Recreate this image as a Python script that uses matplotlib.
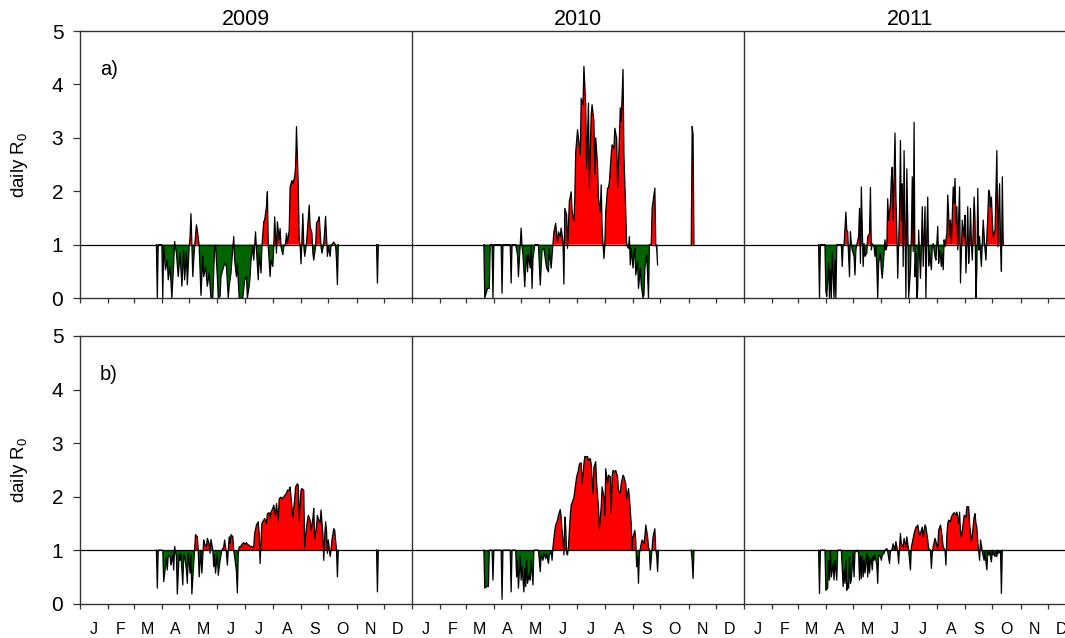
import numpy as np
import matplotlib
matplotlib.use('Agg')
import matplotlib.pyplot as plt

plt.rcParams['font.family'] = ['Liberation Sans', 'DejaVu Sans']
plt.rcParams['mathtext.default'] = 'regular'

years = ['2009', '2010', '2011']
months = ['J', 'F', 'M', 'A', 'M', 'J', 'J', 'A', 'S', 'O', 'N', 'D']
month_start = [0, 31, 59, 90, 120, 151, 181, 212, 243, 273, 304, 334, 365]
nan = np.nan

# daily R0, (day of year, value); nan = no data
# panel a)
a09 = [(84, 1.0), (85, 0.0), (86, 1.0), (90, 1.0), (91, 0.0), (92, 0.96), (94, 0.53), (96, 0.71),
       (97, 0.34), (99, 0.59), (101, 0.0), (103, 0.65), (104, 1.06), (106, 0.84), (108, 0.40),
       (110, 0.84), (112, 0.22), (114, 0.90), (115, 0.34), (117, 0.84), (118, 0.25), (120, 0.96),
       (121, 1.14), (122, 1.58), (124, 0.40), (125, 0.71), (126, 0.96), (128, 1.37), (129, 1.27),
       (131, 0.98), (132, 0.53), (133, 0.05), (135, 0.78), (136, 0.40), (138, 0.59), (140, 0.22),
       (142, 0.47), (144, 0.0), (146, 0.0), (148, 0.96), (149, 0.99), (151, 0.40), (152, 0.0),
       (154, 0.03), (155, 0.40), (157, 0.53), (159, 0.65), (161, 0.59), (163, 0.0), (164, 0.22),
       (166, 0.47), (167, 0.71), (169, 1.15), (170, 0.71), (172, 0.40), (173, 0.65), (175, 0.0),
       (177, 0.0), (179, 0.0), (181, 0.34), (183, 0.40), (184, 0.0), (186, 0.22), (187, 0.40),
       (188, 0.71), (190, 0.96), (191, 0.71), (193, 1.24), (194, 0.90), (196, 0.34), (197, 0.84),
       (199, 0.47), (200, 0.96), (202, 1.43), (203, 1.46), (205, 1.71), (206, 1.99), (207, 0.96),
       (209, 0.40), (210, 0.71), (212, 0.59), (213, 0.96), (214, 1.52), (216, 0.84), (217, 1.43),
       (219, 1.09), (220, 1.30), (221, 0.96), (223, 0.81), (224, 0.96), (226, 1.02), (227, 1.21),
       (228, 1.02), (230, 1.27), (231, 2.08), (233, 2.20), (234, 2.14), (236, 2.27), (237, 2.45),
       (238, 3.21), (240, 2.08), (241, 1.09), (242, 0.99), (243, 0.64), (245, 1.58), (246, 0.99),
       (247, 0.78), (249, 1.02), (250, 1.27), (252, 1.74), (253, 1.34), (255, 1.21), (256, 0.84),
       (257, 0.71), (259, 0.96), (260, 1.40), (262, 1.46), (263, 1.52), (265, 0.96), (266, 0.84),
       (268, 1.02), (269, 1.27), (270, 1.53), (272, 0.78), (273, 0.96), (275, 0.78), (276, 0.99),
       (278, 1.02), (279, 1.05), (281, 0.99), (282, 0.71), (283, 0.25), (284, 1.0), (300, nan),
       (326, 1.0), (327, 0.28), (328, 1.0)]

a10 = [(79, 1.0), (80, 0.0), (83, 0.18), (85, 0.18), (86, 1.0), (88, 1.0), (89, 0.0), (90, 1.0),
       (98, 1.0), (99, 0.09), (100, 1.0), (108, 1.0), (109, 0.28), (110, 1.0), (114, 1.0),
       (116, 0.81), (117, 0.40), (119, 0.99), (120, 1.31), (121, 0.96), (122, 0.81), (124, 0.21),
       (125, 0.62), (126, 0.81), (127, 0.49), (128, 0.81), (130, 0.56), (131, 0.99), (132, 0.18),
       (133, 0.74), (135, 1.0), (139, 1.0), (141, 0.24), (143, 0.90), (145, 0.93), (147, 0.68),
       (148, 0.56), (150, 0.49), (151, 0.93), (153, 0.56), (155, 1.0), (156, 1.24), (158, 1.40),
       (159, 1.18), (160, 1.05), (161, 1.24), (163, 1.15), (164, 1.31), (166, 1.05), (167, 0.26),
       (168, 1.68), (170, 1.56), (171, 0.93), (173, 1.81), (175, 1.99), (176, 1.62), (178, 1.43),
       (179, 1.87), (180, 2.74), (182, 3.15), (183, 2.99), (185, 2.68), (186, 3.74), (188, 3.62),
       (189, 4.34), (191, 3.62), (192, 2.43), (194, 3.65), (195, 2.06), (197, 3.43), (198, 3.62),
       (200, 3.31), (201, 2.32), (202, 3.00), (204, 2.49), (205, 1.87), (207, 1.62), (208, 2.12),
       (209, 1.31), (211, 0.74), (212, 1.0), (213, 1.62), (215, 2.06), (216, 2.06), (217, 2.18),
       (219, 2.68), (220, 2.87), (222, 2.81), (223, 3.18), (225, 2.99), (226, 2.06), (228, 2.99),
       (229, 3.56), (230, 3.31), (232, 4.28), (233, 2.68), (235, 1.62), (236, 1.0), (238, 0.93),
       (239, 1.15), (240, 0.62), (241, 0.93), (243, 0.56), (244, 0.81), (245, 0.93), (246, 0.43),
       (248, 0.68), (249, 0.18), (251, 0.56), (252, 0.24), (254, 0.0), (255, 0.06), (256, 0.56),
       (258, 0.81), (259, 0.43), (260, 0.0), (261, 1.0), (263, 1.0), (264, 1.68), (265, 1.81),
       (267, 2.06), (268, 1.0), (269, 0.93), (270, 0.62), (290, nan),
       (307, 1.0), (308, 3.21), (309, 3.06), (310, 1.0)]

a11 = [(82, 1.0), (83, 0.0), (84, 1.0), (89, 1.0), (90, 0.12), (91, 0.03), (93, 0.65), (94, 0.0),
       (95, 0.53), (96, 0.0), (97, 0.84), (99, 0.0), (100, 0.71), (101, 0.0), (102, 1.0), (107, 1.0),
       (108, 0.59), (109, 1.0), (110, 1.0), (112, 1.61), (113, 1.27), (114, 1.24), (115, 0.78),
       (116, 0.40), (117, 1.24), (118, 1.02), (119, 0.90), (121, 0.78), (122, 0.43), (123, 0.90),
       (124, 1.0), (126, 1.15), (127, 1.68), (128, 0.65), (129, 2.08), (130, 1.34), (131, 0.59),
       (132, 1.02), (133, 0.78), (135, 0.84), (136, 1.15), (138, 1.21), (139, 2.07), (140, 0.90),
       (141, 1.02), (143, 0.96), (144, 0.78), (145, 0.96), (146, 0.59), (147, 0.0), (148, 0.65),
       (150, 0.84), (151, 0.53), (152, 0.37), (154, 0.84), (155, 1.09), (156, 0.90), (157, 0.96),
       (158, 1.86), (159, 1.45), (161, 1.77), (162, 2.27), (163, 2.45), (164, 1.45), (166, 3.09),
       (167, 1.89), (168, 1.27), (169, 0.37), (171, 1.65), (172, 2.95), (173, 1.45), (174, 2.14),
       (175, 0.59), (176, 2.76), (177, 1.45), (178, 0.0), (179, 2.42), (180, 1.45), (181, 0.0),
       (183, 0.53), (184, 1.15), (185, 2.27), (186, 0.87), (187, 3.29), (188, 0.40), (189, 0.84),
       (190, 0.0), (191, 0.16), (192, 1.27), (194, 0.37), (195, 0.90), (196, 1.71), (197, 0.59),
       (198, 1.15), (199, 1.71), (200, 0.0), (201, 1.21), (202, 1.89), (203, 0.60), (204, 0.84),
       (206, 0.53), (207, 0.96), (208, 1.02), (209, 0.90), (210, 0.78), (211, 0.71), (213, 1.34),
       (214, 0.65), (215, 0.90), (216, 0.78), (217, 0.59), (218, 0.84), (219, 0.53), (220, 1.09),
       (221, 0.96), (223, 1.21), (224, 1.93), (225, 1.58), (226, 1.15), (227, 1.46), (228, 1.02),
       (230, 2.08), (231, 1.77), (232, 2.24), (233, 1.40), (234, 1.71), (235, 0.90), (236, 1.46),
       (237, 2.08), (238, 0.28), (239, 0.84), (240, 1.46), (242, 1.15), (243, 1.55), (244, 0.47),
       (245, 1.02), (246, 1.71), (247, 0.65), (248, 1.02), (249, 1.68), (250, 1.02), (251, 0.71),
       (253, 1.89), (254, 1.46), (255, 0.0), (256, 0.53), (257, 2.05), (258, 0.90), (259, 1.15),
       (260, 0.84), (261, 0.59), (262, 1.02), (263, 1.46), (265, 0.90), (266, 0.71), (267, 1.15),
       (268, 1.52), (269, 2.02), (270, 1.96), (271, 1.71), (272, 1.89), (273, 1.46), (274, 1.15),
       (276, 1.27), (277, 2.02), (278, 2.76), (279, 0.96), (280, 1.65), (281, 2.14), (282, 1.02),
       (283, 0.50), (284, 2.27), (285, 1.0)]

# panel b)
b09 = [(84, 1.0), (85, 0.29), (86, 1.0), (91, 1.0), (92, 0.41), (95, 0.84), (96, 0.63), (97, 0.91),
       (99, 0.88), (100, 0.72), (102, 0.91), (103, 0.63), (104, 1.07), (106, 0.88), (107, 0.18),
       (109, 0.91), (110, 0.81), (111, 0.94), (113, 0.35), (114, 0.91), (115, 0.88), (117, 0.63),
       (118, 0.38), (119, 0.94), (121, 0.57), (122, 0.91), (123, 0.18), (125, 0.75), (126, 1.0),
       (127, 1.29), (129, 1.25), (130, 1.0), (131, 0.50), (133, 1.0), (134, 0.57), (136, 1.19),
       (137, 1.12), (139, 1.06), (140, 1.22), (142, 1.12), (143, 0.94), (144, 1.20), (146, 1.0),
       (147, 0.69), (148, 0.91), (149, 0.57), (151, 0.94), (152, 0.53), (154, 0.81), (155, 0.91),
       (156, 1.0), (158, 1.06), (159, 1.19), (161, 0.94), (162, 0.72), (164, 1.25), (165, 1.12),
       (166, 1.29), (168, 1.25), (169, 1.0), (171, 0.75), (172, 0.60), (173, 0.20), (174, 0.94),
       (175, 1.06), (177, 1.07), (178, 1.11), (180, 1.14), (181, 1.11), (183, 1.14), (184, 1.11),
       (186, 1.09), (187, 1.07), (188, 1.07), (190, 1.06), (191, 1.06), (192, 1.31), (194, 1.47),
       (195, 1.50), (196, 1.53), (197, 1.31), (198, 0.75), (199, 1.19), (200, 1.50), (202, 1.56),
       (203, 1.59), (205, 1.50), (206, 1.68), (208, 1.70), (209, 1.59), (210, 1.71), (212, 1.78),
       (213, 1.84), (215, 1.65), (216, 1.87), (218, 1.56), (219, 1.96), (221, 1.99), (222, 1.96),
       (224, 1.99), (225, 2.02), (227, 2.06), (228, 2.12), (230, 2.12), (231, 2.18), (234, 1.62),
       (236, 1.95), (237, 2.18), (239, 2.24), (240, 2.21), (241, 1.56), (243, 2.12), (244, 2.15),
       (246, 2.12), (247, 1.06), (249, 1.43), (251, 1.65), (253, 1.56), (254, 1.37), (256, 1.59),
       (257, 1.78), (258, 1.22), (260, 1.43), (261, 1.65), (262, 1.59), (264, 1.50), (265, 1.75),
       (267, 1.31), (268, 0.81), (269, 1.25), (270, 1.53), (271, 1.37), (272, 0.94), (273, 1.19),
       (275, 0.88), (276, 1.0), (277, 1.19), (279, 1.40), (280, 1.37), (282, 1.0), (283, 0.50),
       (284, 1.0), (300, nan), (326, 1.0), (327, 0.22), (328, 1.0)]

b10 = [(79, 1.0), (80, 0.29), (82, 0.32), (84, 0.32), (85, 1.0), (88, 1.0), (89, 0.44), (90, 1.0),
       (98, 1.0), (99, 0.08), (100, 1.0), (108, 1.0), (109, 0.22), (110, 1.0), (114, 1.0),
       (115, 0.50), (116, 0.81), (117, 0.29), (119, 0.88), (120, 0.44), (121, 0.69), (123, 0.22),
       (124, 0.66), (125, 0.32), (126, 0.81), (127, 0.38), (129, 0.57), (130, 0.44), (131, 0.81),
       (133, 0.35), (134, 1.0), (139, 1.0), (141, 0.60), (142, 0.91), (144, 0.81), (145, 0.94),
       (147, 0.84), (148, 0.94), (150, 0.75), (151, 0.91), (153, 0.97), (154, 0.81), (155, 1.06),
       (157, 1.37), (158, 1.47), (160, 1.56), (161, 1.65), (163, 1.76), (164, 1.62), (165, 1.37),
       (166, 1.19), (167, 0.91), (168, 1.62), (169, 1.43), (170, 0.94), (171, 0.91), (172, 1.06),
       (174, 1.65), (175, 1.84), (177, 1.93), (178, 1.99), (180, 2.24), (181, 2.37), (183, 2.49),
       (184, 2.61), (186, 2.63), (187, 2.24), (189, 2.61), (190, 2.75), (191, 2.74), (193, 2.75),
       (194, 2.68), (196, 2.71), (197, 2.61), (199, 2.06), (200, 2.55), (202, 2.65), (203, 2.24),
       (205, 1.81), (206, 1.40), (208, 1.81), (209, 2.18), (211, 1.99), (212, 1.65), (213, 2.52),
       (215, 2.24), (216, 2.40), (218, 2.37), (219, 1.68), (220, 2.37), (221, 2.49), (223, 2.46),
       (224, 2.49), (226, 2.37), (227, 2.12), (229, 2.06), (230, 2.24), (232, 2.40), (233, 2.37),
       (235, 2.24), (236, 1.96), (238, 2.15), (239, 1.99), (241, 1.50), (242, 1.0), (243, 1.25),
       (245, 1.37), (246, 1.19), (247, 0.69), (248, 0.88), (249, 0.38), (250, 0.94), (252, 1.12),
       (253, 1.19), (255, 1.12), (256, 1.25), (257, 1.47), (259, 1.25), (260, 1.06), (261, 1.0),
       (262, 0.63), (264, 1.06), (265, 1.25), (267, 1.40), (268, 1.0), (269, 0.91), (270, 0.60),
       (271, 1.0), (290, nan), (307, 1.0), (308, 0.80), (309, 0.47), (310, 1.0)]

b11 = [(82, 1.0), (83, 0.19), (84, 1.0), (89, 1.0), (90, 0.25), (92, 0.29), (93, 0.81), (94, 0.44),
       (95, 0.97), (96, 0.50), (98, 0.75), (99, 0.44), (100, 0.81), (102, 0.44), (103, 1.0),
       (107, 1.0), (109, 0.32), (110, 0.63), (111, 0.38), (112, 0.81), (113, 0.25), (114, 0.38),
       (115, 0.29), (116, 0.88), (117, 0.38), (118, 0.44), (120, 0.94), (121, 0.50), (122, 0.97),
       (123, 0.97), (125, 1.0), (126, 0.94), (127, 0.44), (128, 0.88), (129, 0.47), (130, 0.88),
       (131, 0.50), (132, 0.81), (133, 0.57), (135, 0.94), (136, 0.50), (137, 0.88), (138, 0.57),
       (139, 0.81), (140, 0.84), (141, 0.63), (142, 0.88), (143, 0.81), (144, 0.91), (146, 0.72),
       (147, 0.38), (148, 0.91), (150, 0.88), (151, 0.81), (152, 0.91), (154, 0.94), (155, 1.0),
       (157, 1.03), (158, 0.97), (160, 0.75), (161, 0.97), (163, 1.03), (164, 1.12), (166, 1.0),
       (167, 1.16), (169, 0.97), (170, 0.75), (171, 1.06), (172, 1.31), (173, 1.12), (175, 1.06),
       (176, 1.22), (178, 1.06), (179, 1.25), (180, 1.12), (181, 1.0), (183, 0.63), (184, 1.06),
       (186, 1.22), (187, 1.31), (189, 1.43), (190, 1.43), (191, 1.47), (193, 1.28), (194, 1.31),
       (196, 1.43), (197, 1.25), (199, 1.47), (200, 1.43), (202, 1.19), (203, 1.03), (205, 1.0),
       (206, 0.66), (207, 0.94), (208, 1.06), (210, 1.22), (211, 1.16), (213, 1.03), (214, 1.37),
       (216, 1.47), (217, 1.37), (218, 1.22), (219, 1.06), (221, 1.0), (222, 0.72), (223, 1.28),
       (224, 1.50), (225, 1.56), (227, 1.53), (228, 1.62), (230, 1.68), (231, 1.70), (233, 1.66),
       (234, 1.71), (236, 1.50), (237, 1.71), (238, 1.34), (239, 1.25), (241, 1.50), (242, 1.65),
       (244, 1.62), (245, 1.81), (247, 1.81), (248, 1.50), (250, 1.16), (251, 1.28), (253, 1.62),
       (254, 1.68), (255, 1.50), (256, 1.43), (257, 1.16), (259, 0.81), (260, 1.19), (261, 1.09),
       (262, 0.97), (264, 0.81), (265, 0.97), (266, 0.78), (267, 0.63), (268, 0.97), (269, 0.91),
       (270, 0.97), (272, 0.78), (273, 1.0), (274, 0.91), (275, 0.94), (276, 0.88), (277, 0.97),
       (278, 0.88), (279, 1.0), (280, 0.94), (282, 0.99), (283, 0.19), (284, 1.0)]

panels = [('a)', [a09, a10, a11]), ('b)', [b09, b10, b11])]

frame_col = '#333333'

fig = plt.figure(figsize=(10.65, 6.38), dpi=100)
ax_a = fig.add_axes([80 / 1065, 0.5329, 996 / 1065, 0.4185])
ax_b = fig.add_axes([80 / 1065, 0.0538, 996 / 1065, 0.4196])

for ax, (letter, series) in zip([ax_a, ax_b], panels):
    for k, pts in enumerate(series):
        d, v = zip(*pts)
        x = np.array(d, dtype=float) + 365 * k
        y = np.array(v, dtype=float)
        ax.fill_between(x, y, 1, where=y >= 1, interpolate=True, color='#ff0000', lw=0)
        ax.fill_between(x, y, 1, where=y <= 1, interpolate=True, color='#006400', lw=0)
        ax.plot(x, y, color='black', lw=0.9)
    ax.axhline(1, color='black', lw=0.9)
    for k in (1, 2):
        ax.axvline(365 * k, color=frame_col, lw=1.0)
    ax.set_xlim(0, 3 * 365)
    ax.set_ylim(0, 5)
    ax.set_yticks(range(6))
    major = [m + 365 * k for k in range(3) for m in month_start[:-1]] + [3 * 365]
    minor = [(month_start[i] + month_start[i + 1]) / 2 + 365 * k for k in range(3) for i in range(12)]
    ax.set_xticks(major)
    ax.set_xticklabels([])
    ax.set_xticks(minor, minor=True)
    ax.tick_params(axis='y', length=5, width=0.9, color=frame_col, pad=7, labelsize=15)
    ax.tick_params(axis='x', which='major', length=3.6, width=0.9, color=frame_col)
    ax.tick_params(axis='x', which='minor', length=0, pad=13, labelsize=11.5)
    for s in ax.spines.values():
        s.set_color(frame_col)
        s.set_linewidth(1.0)
    ax.text(0.02, 0.857, letter, transform=ax.transAxes, fontsize=14.5, va='center', ha='left')

ax_a.set_xticklabels([], minor=True)
ax_b.set_xticklabels(months * 3, minor=True)

for k, yr in enumerate(years):
    ax_a.text(182.5 + 365 * k, 1.042, yr, transform=ax_a.get_xaxis_transform(),
              ha='center', va='center', fontsize=15.5)

fig.text(20 / 1065, 0.742, 'daily R$_0$', rotation=90, ha='center', va='center', fontsize=13.5)
fig.text(20 / 1065, 0.263, 'daily R$_0$', rotation=90, ha='center', va='center', fontsize=13.5)

fig.savefig('out.png', dpi=100)
